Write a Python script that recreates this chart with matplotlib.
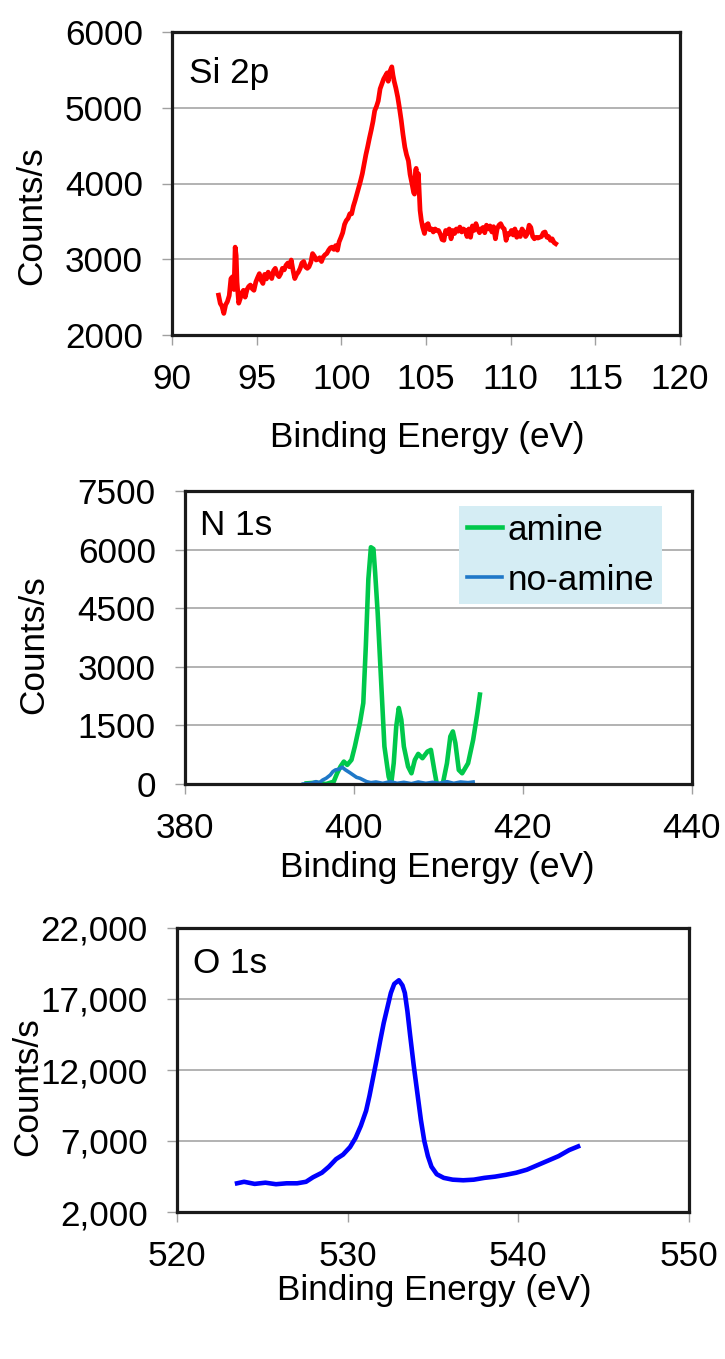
import matplotlib.pyplot as plt

# --- DATA ---
si_energy = [92.75, 92.85, 92.95, 93.06, 93.17, 93.27, 93.38, 93.48, 93.58, 93.66,
             93.73, 93.79, 93.84, 93.94, 94.03, 94.11, 94.22, 94.32, 94.43, 94.53,
             94.63, 94.74, 94.84, 94.95, 95.06, 95.16, 95.27, 95.37, 95.47, 95.58,
             95.68, 95.79, 95.89, 96.00, 96.10, 96.21, 96.32, 96.42, 96.52, 96.63,
             96.73, 96.84, 96.94, 97.04, 97.15, 97.25, 97.36, 97.46, 97.57, 97.67,
             97.78, 97.88, 97.99, 98.09, 98.20, 98.30, 98.41, 98.51, 98.62, 98.72,
             98.83, 98.93, 99.04, 99.14, 99.25, 99.35, 99.45, 99.56, 99.66, 99.77,
             99.87, 99.98, 100.08, 100.19, 100.29, 100.40, 100.50, 100.61, 100.71, 100.82,
             100.92, 101.03, 101.13, 101.24, 101.34, 101.45, 101.55, 101.66, 101.76, 101.87,
             101.97, 102.08, 102.18, 102.29, 102.39, 102.50, 102.60, 102.70, 102.77, 102.87,
             102.98, 103.05, 103.12, 103.22, 103.33, 103.43, 103.54, 103.64, 103.75, 103.85,
             103.96, 104.06, 104.17, 104.27, 104.32, 104.38, 104.42, 104.48, 104.55, 104.60,
             104.65, 104.72, 104.80, 104.91, 105.01, 105.12, 105.22, 105.33, 105.43, 105.54,
             105.64, 105.74, 105.85, 105.95, 106.06, 106.16, 106.27, 106.37, 106.48, 106.58,
             106.69, 106.79, 106.90, 107.00, 107.11, 107.21, 107.32, 107.42, 107.53, 107.63,
             107.74, 107.84, 107.95, 108.05, 108.16, 108.26, 108.37, 108.47, 108.57, 108.68,
             108.78, 108.89, 108.99, 109.10, 109.20, 109.31, 109.41, 109.52, 109.62, 109.73,
             109.83, 109.94, 110.04, 110.15, 110.25, 110.36, 110.46, 110.57, 110.67, 110.78,
             110.88, 110.99, 111.09, 111.19, 111.30, 111.40, 111.51, 111.61, 111.72, 111.82,
             111.93, 112.03, 112.14, 112.24, 112.35, 112.45, 112.56, 112.66]
si_counts = [2526, 2417, 2380, 2285, 2400, 2440, 2520, 2745, 2770, 2600,
             3160, 3050, 2700, 2420, 2480, 2550, 2590, 2500, 2600, 2640,
             2660, 2610, 2590, 2700, 2760, 2810, 2720, 2680, 2800, 2740,
             2830, 2790, 2745, 2850, 2880, 2800, 2770, 2810, 2880, 2860,
             2920, 2950, 2900, 2990, 2850, 2745, 2800, 2830, 2880, 2950,
             2970, 2900, 2880, 2900, 2960, 3075, 3040, 2990, 3000, 3020,
             2970, 3030, 3060, 3075, 3120, 3150, 3160, 3130, 3180, 3120,
             3230, 3290, 3350, 3460, 3510, 3540, 3600, 3600, 3700, 3780,
             3860, 3950, 4030, 4130, 4250, 4380, 4480, 4600, 4700, 4820,
             4960, 5020, 5090, 5250, 5310, 5380, 5420, 5460, 5350, 5480,
             5540, 5430, 5350, 5260, 5140, 5000, 4830, 4650, 4480, 4380,
             4300, 4120, 4000, 3880, 3860, 4170, 4200, 4000, 4130, 3900,
             3645, 3520, 3425, 3340, 3450, 3470, 3390, 3400, 3360, 3400,
             3380, 3380, 3330, 3260, 3250, 3380, 3340, 3400, 3270, 3380,
             3340, 3400, 3370, 3425, 3360, 3400, 3380, 3300, 3400, 3290,
             3440, 3380, 3470, 3400, 3350, 3400, 3420, 3350, 3450, 3400,
             3440, 3360, 3430, 3270, 3400, 3450, 3470, 3420, 3400, 3250,
             3340, 3330, 3380, 3320, 3400, 3290, 3350, 3300, 3400, 3360,
             3300, 3340, 3450, 3420, 3300, 3270, 3290, 3280, 3290, 3300,
             3350, 3360, 3290, 3300, 3250, 3270, 3220, 3205]

amine_energy = [394.4, 395.5, 396.7, 397.6, 398.0, 398.4, 398.8, 399.2, 399.7, 400.1,
                400.7, 401.1, 401.4, 401.7, 402.0, 402.3, 402.5, 402.8, 403.2, 403.6,
                404.1, 404.4, 404.7, 405.0, 405.3, 405.6, 405.9, 406.4, 406.8, 407.2,
                407.6, 408.1, 408.7, 409.1, 409.5, 409.8, 410.5, 411.0, 411.4, 411.7,
                412.0, 412.4, 412.8, 413.5, 414.1, 414.6, 414.9]
amine_counts = [17, 34, 0, 60, 274, 446, 574, 489, 617, 960,
                1560, 2074, 3531, 5246, 6060, 6017, 5417, 4389, 2674, 960,
                189, 0, 531, 1474, 1946, 1646, 960, 446, 274, 617,
                771, 660, 831, 874, 360, 0, 0, 531, 1217, 1346,
                1046, 360, 274, 531, 1131, 1817, 2289]

noamine_energy = [394.0, 394.9, 395.5, 395.9, 396.3, 396.7, 397.2, 397.5, 397.8, 398.2,
                  398.6, 399.0, 399.5, 399.9, 400.3, 400.7, 401.1, 401.5, 402.0, 402.6,
                  403.4, 404.3, 405.1, 405.9, 406.8, 407.6, 408.5, 409.3, 410.1, 411.0,
                  411.8, 412.6, 413.5, 414.1]
noamine_counts = [0, 17, 60, 34, 103, 146, 231, 317, 360, 377,
                  429, 360, 291, 231, 171, 146, 103, 60, 34, 51,
                  17, 60, 17, 43, 9, 51, 17, 43, 17, 60,
                  17, 51, 34, 51]

o_energy = [523.52, 523.93, 524.55, 525.18, 525.80, 526.42, 527.04, 527.56, 527.97, 528.49,
            528.90, 529.32, 529.73, 530.14, 530.46, 530.77, 531.08, 531.28, 531.49, 531.70,
            531.90, 532.11, 532.32, 532.53, 532.73, 533.00, 533.21, 533.35, 533.50, 533.66,
            533.87, 534.08, 534.29, 534.49, 534.70, 534.91, 535.22, 535.63, 536.15, 536.77,
            537.39, 538.01, 538.63, 539.26, 539.88, 540.50, 541.12, 541.74, 542.36, 542.98,
            543.50]
o_counts = [4021, 4128, 3979, 4064, 3957, 4021, 4021, 4128, 4447, 4766,
            5191, 5723, 6043, 6574, 7213, 8064, 9128, 10191, 11468, 12745,
            14021, 15298, 16362, 17426, 18064, 18319, 17957, 17426, 16149, 14447,
            12319, 10404, 8489, 7000, 5936, 5191, 4660, 4404, 4277, 4234,
            4277, 4404, 4489, 4617, 4766, 4979, 5298, 5617, 5936, 6362,
            6617]

si_yticks = [2000, 3000, 4000, 5000, 6000]
si_xticks = [90, 95, 100, 105, 110, 115, 120]
n_yticks = [0, 1500, 3000, 4500, 6000, 7500]
n_xticks = [380, 400, 420, 440]
o_yticks = [2000, 7000, 12000, 17000, 22000]
o_yticklabels = ["2,000", "7,000", "12,000", "17,000", "22,000"]
o_xticks = [520, 530, 540, 550]

# --- LAYOUT (pixel positions on a 725 x 1359 canvas) ---
W, H = 725, 1359
FS = 25.3

plt.rcParams['font.family'] = ['Liberation Sans', 'DejaVu Sans']
plt.rcParams['font.size'] = FS


def rect(left, top, right, bottom):
    return [left / W, 1 - bottom / H, (right - left) / W, (bottom - top) / H]


def style_axes(ax, xticks, yticks, ylabels=None):
    ax.set_xlim(xticks[0], xticks[-1])
    ax.set_ylim(yticks[0], yticks[-1])
    ax.set_xticks(xticks)
    ax.set_yticks(yticks)
    if ylabels is not None:
        ax.set_yticklabels(ylabels)
    ax.grid(True, axis='y', color='#a6a6a6', linewidth=1.2)
    ax.set_axisbelow(True)
    for s in ax.spines.values():
        s.set_color('#1a1a1a')
        s.set_linewidth(2.3)
    ax.tick_params(axis='both', direction='out', length=7.5, width=1.0,
                   color='#a0a0a0', labelsize=FS)
    ax.tick_params(axis='y', pad=13.5)
    ax.tick_params(axis='x', pad=12.5)


fig = plt.figure(figsize=(W / 100, H / 100), dpi=100)

# --- Si 2p ---
ax1 = fig.add_axes(rect(172, 32, 680, 335))
ax1.plot(si_energy, si_counts, color='#ff0000', linewidth=3.4)
style_axes(ax1, si_xticks, si_yticks)
ax1.text(0.034, 0.833, "Si 2p", transform=ax1.transAxes, va='baseline', ha='left')
ax1.set_xlabel("Binding Energy (eV)")
ax1.set_ylabel("Counts/s")
ax1.xaxis.set_label_coords(427 / W, 1 - 421 / H, transform=fig.transFigure)
ax1.yaxis.label.set_va('center')
ax1.yaxis.set_label_coords(32 / W, 1 - 216 / H, transform=fig.transFigure)

# --- N 1s ---
ax2 = fig.add_axes(rect(185, 491, 692, 784))
ax2.plot(amine_energy, amine_counts, color='#00c84b', linewidth=3.3, label='amine')
ax2.plot(noamine_energy, noamine_counts, color='#1f78c8', linewidth=2.6, label='no-amine')
style_axes(ax2, n_xticks, n_yticks)
ax2.text(0.030, 0.851, "N 1s", transform=ax2.transAxes, va='baseline', ha='left')
leg = ax2.legend(loc='upper left', bbox_to_anchor=(0.541, 0.949), frameon=True,
                 fancybox=False, facecolor='#d5edf4', edgecolor='none', framealpha=1,
                 borderpad=0.22, borderaxespad=0, handlelength=1.0,
                 handletextpad=0.15, labelspacing=0.48)
ax2.set_xlabel("Binding Energy (eV)")
ax2.set_ylabel("Counts/s")
ax2.xaxis.set_label_coords(437 / W, 1 - 851 / H, transform=fig.transFigure)
ax2.yaxis.label.set_va('center')
ax2.yaxis.set_label_coords(34 / W, 1 - 645 / H, transform=fig.transFigure)

# --- O 1s ---
ax3 = fig.add_axes(rect(177, 928, 689, 1212))
ax3.plot(o_energy, o_counts, color='#0000ff', linewidth=3.3)
style_axes(ax3, o_xticks, o_yticks, o_yticklabels)
ax3.text(0.032, 0.840, "O 1s", transform=ax3.transAxes, va='baseline', ha='left')
ax3.set_xlabel("Binding Energy (eV)")
ax3.set_ylabel("Counts/s")
ax3.xaxis.set_label_coords(434 / W, 1 - 1274 / H, transform=fig.transFigure)
ax3.yaxis.label.set_va('center')
ax3.yaxis.set_label_coords(28 / W, 1 - 1087 / H, transform=fig.transFigure)

fig.savefig("out.png", dpi=100)
